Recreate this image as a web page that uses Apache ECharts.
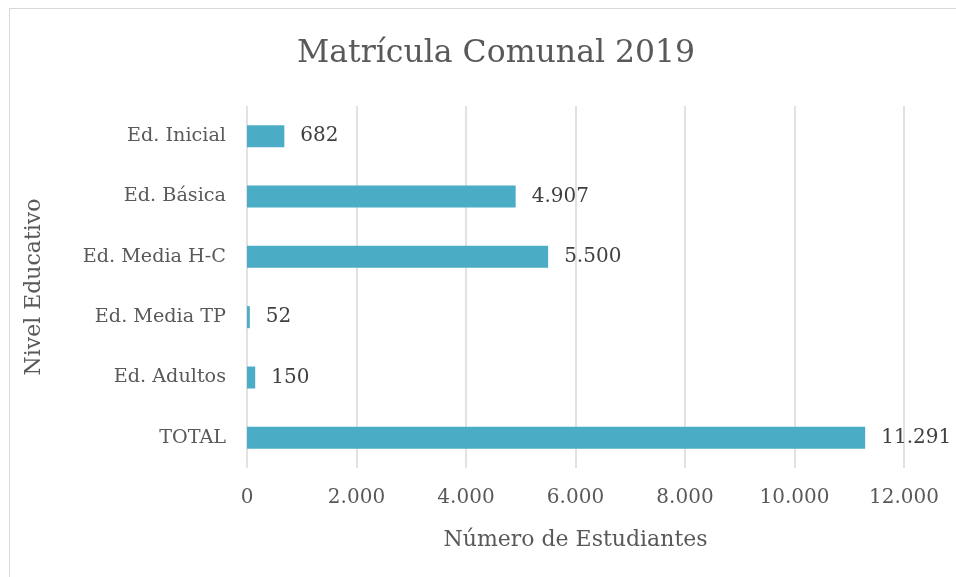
<!DOCTYPE html>
<html>
<head>
<meta charset="utf-8">
<script src="https://cdn.jsdelivr.net/npm/echarts@6/dist/echarts.min.js"></script>
<style>
  html, body { margin: 0; padding: 0; background: #fff; }
  #frame { position: absolute; left: 9px; top: 8px; width: 960px; height: 580px; border: 1.5px solid #d9d9d9; box-sizing: border-box; }
  #chart { position: absolute; left: 0; top: 0; width: 956px; height: 577px; }
</style>
</head>
<body>
<div id="frame"></div>
<div id="chart"></div>
<script>
  // categorias (de arriba hacia abajo) y valores
  var categories = ['Ed. Inicial', 'Ed. Básica', 'Ed. Media H-C', 'Ed. Media TP', 'Ed. Adultos', 'TOTAL']
  var values = [682, 4907, 5500, 52, 150, 11291]

  var serif = 'DejaVu Serif'
  // formato con punto de miles
  function miles(v) {
    return String(v).replace(/\B(?=(\d{3})+(?!\d))/g, '.')
  }

  var myChart = echarts.init(document.getElementById('chart'))
  var option = {
    animation: false,
    title: {
      text: 'Matrícula Comunal 2019',
      left: 292,
      top: 33,
      textStyle: { fontFamily: serif, fontSize: 31.5, fontWeight: 'normal', color: '#595959' }
    },
    grid: { left: 247, right: 52, top: 106, bottom: 109 },
    xAxis: {
      type: 'value',
      min: 0,
      max: 12000,
      interval: 2000,
      name: 'Número de Estudiantes',
      nameLocation: 'middle',
      nameGap: 61,
      nameTextStyle: { fontFamily: serif, fontSize: 22, color: '#595959' },
      axisLine: { show: false },
      axisTick: { show: false },
      axisLabel: { formatter: miles, fontFamily: serif, fontSize: 20, color: '#595959', margin: 20 },
      splitLine: { lineStyle: { color: '#d9d9d9', width: 1.5 } }
    },
    yAxis: {
      type: 'category',
      inverse: true,
      data: categories,
      name: 'Nivel Educativo',
      nameLocation: 'middle',
      nameGap: 202,
      nameRotate: 90,
      nameTextStyle: { fontFamily: serif, fontSize: 22, color: '#595959' },
      axisLine: { show: false },
      axisTick: { show: false },
      axisLabel: { fontFamily: serif, fontSize: 19.2, color: '#595959', margin: 21 }
    },
    series: [{
      type: 'bar',
      data: values,
      barWidth: 22,
      itemStyle: { color: '#4bacc6' },
      label: {
        show: true,
        position: 'right',
        distance: 16,
        formatter: function (p) { return miles(p.value) },
        fontFamily: serif,
        fontSize: 20,
        color: '#404040'
      }
    }]
  }
  myChart.setOption(option, true)
</script>
</body>
</html>
